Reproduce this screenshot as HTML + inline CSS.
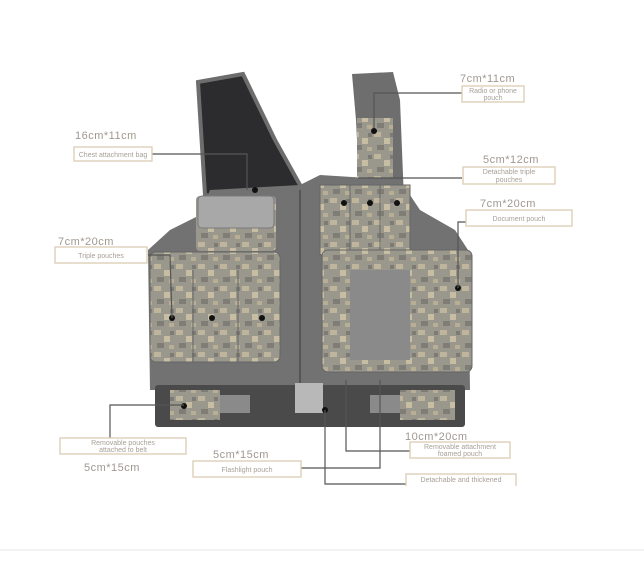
<!DOCTYPE html>
<html><head><style>
body{margin:0;background:#fff;}
svg{display:block}
text{font-family:"Liberation Sans",sans-serif;}
.d{font-size:11px;fill:#a09890;letter-spacing:0.5px}
.l{font-size:7px;fill:#a8a098}
.b{fill:#fff;stroke:#dccbb3;stroke-width:1.3}
.c{stroke:#555;stroke-width:1.2;fill:none}
</style></head><body>
<svg width="644" height="561" viewBox="0 0 644 561">
<defs>
<pattern id="camo" width="22" height="22" patternUnits="userSpaceOnUse">
<rect width="22" height="22" fill="#9a978c"/>
<rect x="0" y="0" width="7" height="5" fill="#beb59c"/>
<rect x="10" y="6" width="6" height="6" fill="#c6bda2"/>
<rect x="3" y="13" width="7" height="5" fill="#7f7d75"/>
<rect x="15" y="15" width="5" height="4" fill="#b7ae95"/>
<rect x="16" y="1" width="4" height="4" fill="#7d7b73"/>
</pattern>
</defs>
<rect width="644" height="561" fill="#fff"/>
<polygon points="198,82 243,74 275,140 300,185 296,205 250,200 205,195" fill="#2c2c2e" stroke="#6d6d6d" stroke-width="4"/>
<polygon points="352,74 393,72 400,100 404,200 360,200 356,120" fill="#6e6e6e"/>
<polygon points="210,190 300,185 320,175 400,180 420,210 455,230 468,250 470,390 150,390 148,250 170,230 200,215" fill="#727272"/>
<rect x="196" y="196" width="80" height="55" rx="4" fill="url(#camo)"/>
<rect x="198" y="196" width="76" height="32" rx="4" fill="#a8a8a8" stroke="#7a7a7a"/>
<rect x="357" y="118" width="36" height="60" fill="url(#camo)"/>
<rect x="320" y="185" width="90" height="70" fill="url(#camo)" stroke="#666"/>
<line x1="350" y1="185" x2="350" y2="255" stroke="#666"/><line x1="380" y1="185" x2="380" y2="255" stroke="#666"/>
<rect x="150" y="252" width="130" height="110" rx="6" fill="url(#camo)" stroke="#666"/>
<line x1="193" y1="270" x2="193" y2="362" stroke="#666"/><line x1="238" y1="270" x2="238" y2="362" stroke="#666"/>
<rect x="322" y="250" width="150" height="122" rx="6" fill="url(#camo)" stroke="#666"/>
<rect x="350" y="270" width="60" height="90" fill="#8a8a8a"/>
<line x1="300" y1="190" x2="300" y2="385" stroke="#555" stroke-width="2"/>
<rect x="155" y="385" width="310" height="42" rx="3" fill="#4a4a4a"/>
<rect x="170" y="390" width="50" height="30" fill="url(#camo)"/>
<rect x="400" y="390" width="55" height="30" fill="url(#camo)"/>
<rect x="295" y="383" width="28" height="30" fill="#b8b8b8"/>
<rect x="220" y="395" width="30" height="18" fill="#8a8a8a"/>
<rect x="370" y="395" width="30" height="18" fill="#8a8a8a"/>
<g fill="#111"><circle cx="255" cy="190" r="3"/><circle cx="374" cy="131" r="3"/><circle cx="344" cy="203" r="3"/><circle cx="370" cy="203" r="3"/><circle cx="397" cy="203" r="3"/><circle cx="172" cy="318" r="3"/><circle cx="212" cy="318" r="3"/><circle cx="262" cy="318" r="3"/><circle cx="458" cy="288" r="3"/><circle cx="184" cy="406" r="3"/><circle cx="325" cy="410" r="3"/></g>
<polyline class="c" points="374,128 374,93 462,93"/>
<polyline class="c" points="150,154 247,154 247,190"/>
<polyline class="c" points="358,178 462,178"/>
<polyline class="c" points="474,222 458,222 458,288"/>
<polyline class="c" points="148,255 170,255 172,318"/>
<polyline class="c" points="110,439 110,405 184,405"/>
<polyline class="c" points="278,468 380,468 380,380"/>
<polyline class="c" points="417,451 346,451 346,380"/>
<polyline class="c" points="325,410 325,484 418,484"/>
<text class="d" x="460" y="82">7cm*11cm</text>
<rect class="b" x="462" y="86" width="62" height="16"/><text class="l" x="493" y="93" text-anchor="middle">Radio or phone</text><text class="l" x="493" y="100" text-anchor="middle">pouch</text>
<text class="d" x="75" y="139">16cm*11cm</text>
<rect class="b" x="74" y="147" width="78" height="14"/><text class="l" x="113" y="157" text-anchor="middle">Chest attachment bag</text>
<text class="d" x="483" y="163">5cm*12cm</text>
<rect class="b" x="463" y="167" width="92" height="17"/><text class="l" x="509" y="174" text-anchor="middle">Detachable triple</text><text class="l" x="509" y="182" text-anchor="middle">pouches</text>
<text class="d" x="480" y="207">7cm*20cm</text>
<rect class="b" x="466" y="210" width="106" height="16"/><text class="l" x="519" y="221" text-anchor="middle">Document pouch</text>
<text class="d" x="58" y="245">7cm*20cm</text>
<rect class="b" x="55" y="247" width="92" height="16"/><text class="l" x="101" y="258" text-anchor="middle">Triple pouches</text>
<rect class="b" x="60" y="438" width="126" height="16"/><text class="l" x="123" y="445" text-anchor="middle">Removable pouches</text><text class="l" x="123" y="452" text-anchor="middle">attached to belt</text>
<text class="d" x="84" y="471">5cm*15cm</text>
<text class="d" x="213" y="458">5cm*15cm</text>
<rect class="b" x="193" y="461" width="108" height="16"/><text class="l" x="247" y="472" text-anchor="middle">Flashlight pouch</text>
<text class="d" x="405" y="440">10cm*20cm</text>
<rect class="b" x="410" y="442" width="100" height="16"/><text class="l" x="460" y="449" text-anchor="middle">Removable attachment</text><text class="l" x="460" y="456" text-anchor="middle">foamed pouch</text>
<rect class="b" x="406" y="474" width="110" height="20"/><text class="l" x="461" y="482" text-anchor="middle">Detachable and thickened</text>
<rect x="400" y="486" width="130" height="10" fill="#fff"/>
<line x1="0" y1="550" x2="644" y2="550" stroke="#e4e4e4"/>
</svg>
</body></html>
